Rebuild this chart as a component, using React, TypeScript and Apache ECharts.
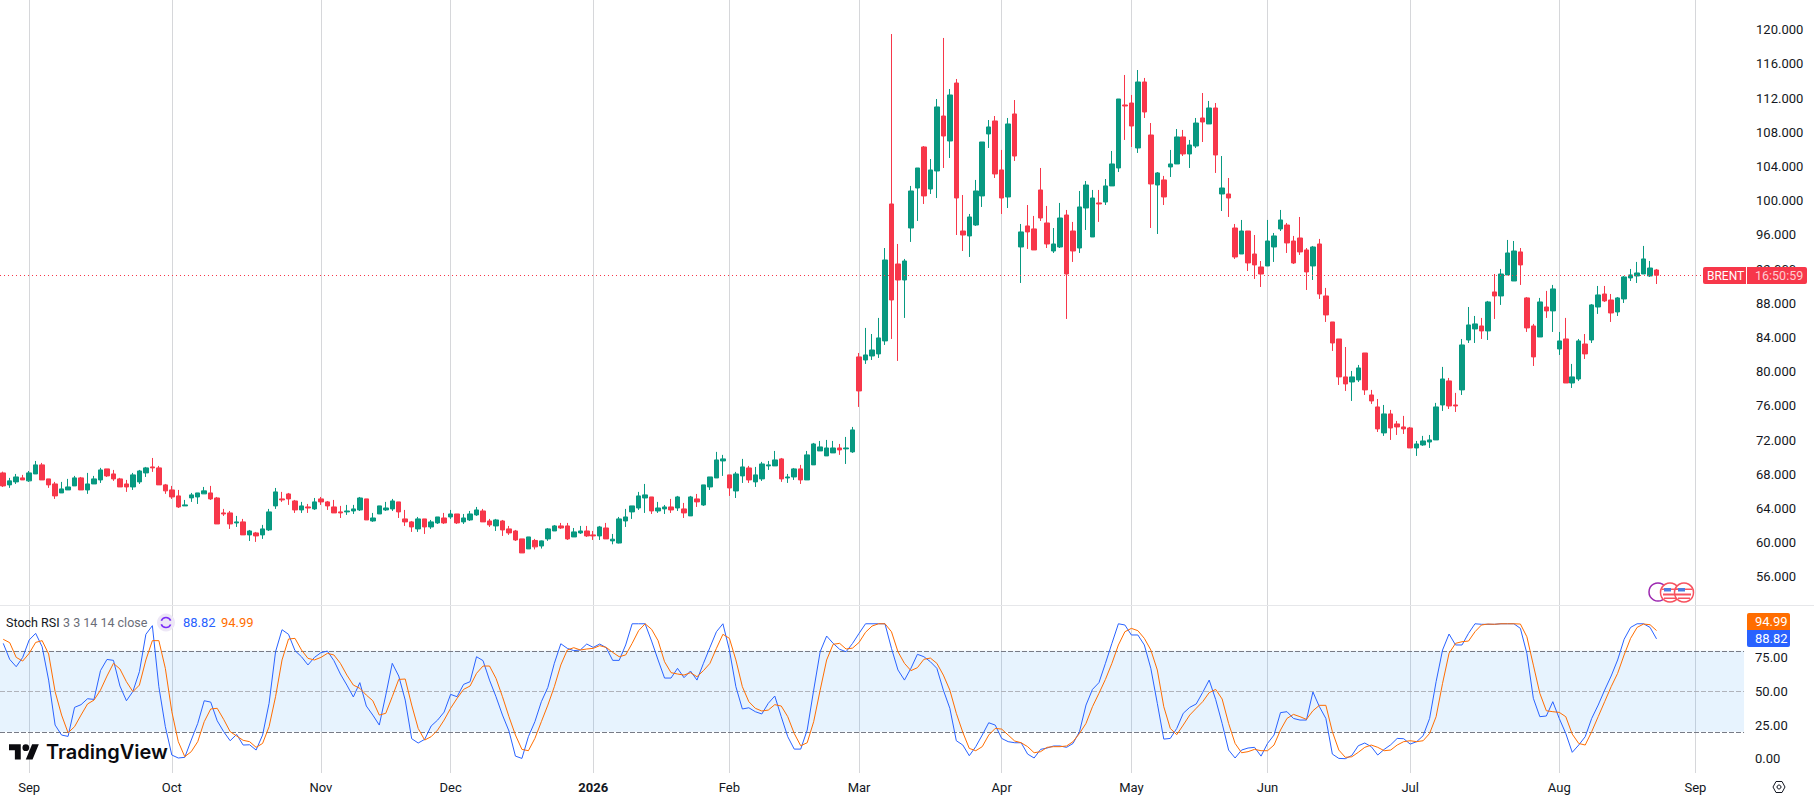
import React, { useEffect, useRef } from "react";
import * as echarts from "echarts";

// [open, close, low, high] per trading day
const candlesSep = [
[68.15,66.63,66.50,68.30],[66.75,67.22,66.40,67.57],[67.10,67.68,66.86,68.03],[67.57,67.33,67.33,67.92],[67.22,68.15,67.10,68.38],[68.03,69.09,68.03,69.55],[69.09,67.33,67.33,69.32],[67.45,66.75,66.40,67.45],[66.86,65.46,65.11,67.10],[65.81,66.28,65.81,67.10],[66.16,66.51,66.16,67.45],[66.63,67.57,66.63,67.80],[67.57,66.16,66.16,67.68],[66.16,66.86,65.70,68.15],[66.86,67.45,66.86,67.80],[67.33,68.50,66.98,68.74],[68.62,67.80,67.68,68.62],[68.03,67.45,67.22,68.50],[67.45,66.51,66.51,67.57],[66.86,66.51,65.93,67.33],[66.51,67.92,66.16,68.15],[67.10,68.38,66.86,68.50],[68.15,68.74,67.68,68.85],[68.85,68.74,68.27,69.90],[68.74,66.75,66.75,68.97],[66.75,66.05,65.70,66.86],
];
const candlesOct = [
[66.16,65.34,65.11,66.63],[65.46,64.17,64.05,66.16],[64.29,64.41,64.29,64.99],[65.23,65.58,64.76,65.81],[65.34,65.81,64.52,65.81],[65.70,66.05,65.70,66.51],[65.81,65.11,64.99,66.63],[65.22,62.18,62.18,65.34],[63.47,63.35,63.12,63.94],[63.47,62.18,61.60,63.70],[62.30,62.42,61.83,63.12],[62.42,60.90,60.90,62.77],[60.90,61.36,60.19,61.48],[61.13,60.78,60.08,61.25],[60.90,61.60,60.43,62.07],[61.48,63.59,61.36,63.94],[64.29,65.93,63.94,66.39],[65.11,64.99,64.76,65.93],[65.69,65.11,64.41,65.81],[64.87,63.82,63.47,64.99],[63.82,64.29,63.47,64.76],[64.17,64.05,63.47,64.52],[63.94,64.76,63.82,65.22],
];
const candlesNov = [
[65.11,64.76,64.41,65.34],[64.76,64.29,63.82,64.87],[64.17,63.47,63.47,64.99],[63.59,63.47,62.88,64.29],[63.59,63.70,63.24,64.41],[63.70,63.94,63.35,64.41],[63.82,65.22,63.70,65.34],[65.11,62.65,62.65,65.11],[62.53,62.88,62.42,63.47],[63.35,64.29,63.35,64.29],[63.82,64.05,63.70,64.76],[63.94,64.87,63.70,65.11],[64.76,63.59,62.88,64.76],[62.77,62.42,61.95,63.82],[62.42,61.83,61.25,62.53],[61.60,62.77,61.25,63.00],[62.77,61.83,61.01,62.77],[61.83,62.42,61.60,62.65],[62.30,63.00,62.18,63.00],[62.88,62.30,62.18,63.47],
];
const candlesDec = [
[63.00,63.35,62.77,63.82],[63.35,62.30,62.18,63.35],[62.42,62.88,62.18,63.35],[62.65,63.35,62.53,63.70],[63.24,63.82,63.12,64.17],[63.70,62.42,62.42,63.94],[62.53,62.07,61.83,62.77],[61.95,62.65,61.36,62.77],[62.53,61.48,60.78,62.65],[61.60,61.13,60.90,61.95],[61.36,60.31,60.19,61.48],[60.43,58.79,58.79,60.43],[59.26,60.66,59.26,60.66],[60.25,59.50,59.20,60.43],[59.60,60.20,59.30,60.25],[60.43,61.60,60.20,61.71],[61.36,61.95,61.36,62.06],[61.95,61.71,61.60,62.30],[61.95,60.43,60.31,62.30],[60.66,61.25,60.66,61.71],[61.13,61.36,61.01,61.95],[61.36,60.78,60.66,61.95],
];
const candlesJan = [
[60.90,60.78,60.31,61.36],[60.78,61.83,60.31,61.95],[61.71,60.43,60.43,62.30],[60.20,60.40,59.80,61.01],[59.95,62.77,59.90,63.00],[62.53,63.00,61.83,63.94],[63.59,64.29,62.77,64.29],[64.05,65.46,63.82,65.93],[65.22,65.58,63.47,66.86],[65.34,63.70,63.35,65.34],[63.70,64.05,63.47,64.76],[63.94,64.17,63.35,64.40],[64.17,63.82,63.47,65.11],[64.05,65.34,63.70,65.46],[63.94,63.47,62.88,64.64],[63.12,65.34,63.12,65.46],[65.11,64.76,64.17,65.69],[64.40,66.75,64.29,66.75],[66.51,67.68,66.16,67.68],[67.56,69.67,67.56,70.61],[69.55,69.79,67.80,70.26],
];
const candlesFeb = [
[67.92,66.39,65.46,67.92],[66.04,68.03,65.22,68.27],[67.80,68.85,66.98,69.79],[68.73,67.33,66.98,68.97],[67.10,67.92,66.51,68.85],[67.45,69.20,67.21,69.44],[68.97,69.09,68.50,69.55],[68.97,69.67,68.97,70.72],[69.79,67.45,67.10,69.90],[67.56,67.68,66.98,68.03],[67.68,68.62,67.33,68.73],[68.62,67.33,66.86,69.09],[67.33,70.26,67.33,70.72],[69.09,71.54,69.09,71.66],[70.72,71.19,70.72,71.89],[70.14,71.07,70.14,72.01],[70.49,71.07,70.49,71.89],[71.07,70.84,70.26,71.54],[70.96,71.07,69.20,72.36],[70.61,73.18,70.49,73.53],
];
const candlesMar = [
[81.72,77.74,75.87,82.18],[81.36,81.95,80.90,85.11],[81.83,82.53,81.36,84.40],[82.07,83.94,81.60,86.28],[83.59,93.06,83.12,94.46],[99.61,88.38,83.82,119.49],[92.59,90.72,81.25,94.93],[90.72,92.94,86.28,93.18],[96.80,101.13,95.17,101.72],[101.48,103.82,97.62,103.82],[106.28,100.55,99.61,106.39],[101.36,103.59,100.78,104.87],[103.47,110.96,100.31,111.89],[109.90,107.56,103.82,119.03],[106.98,112.36,104.99,113.06],[113.76,100.31,95.98,114.23],[96.45,95.98,94.11,100.66],[95.87,98.09,93.41,98.44],[97.15,101.13,97.04,102.42],[100.55,106.86,99.26,106.86],[107.80,108.62,106.16,109.43],[109.32,103.12,102.65,109.90],
];
const candlesApr = [
[103.59,100.31,98.44,105.93],[100.43,108.97,99.14,109.67],[110.14,105.22,104.64,111.77],[94.58,96.34,90.37,97.27],[97.04,96.34,94.35,99.49],[96.69,94.23,94.23,98.21],[101.25,97.97,97.62,103.82],[97.39,94.93,94.46,99.38],[94.11,94.93,93.88,96.80],[94.58,97.97,94.46,99.73],[98.32,91.42,86.16,98.91],[96.45,94.11,92.83,97.51],[94.46,99.26,93.88,101.13],[99.14,101.83,96.57,102.30],[95.75,100.31,95.75,101.25],[99.73,99.61,97.51,101.25],[99.84,101.72,99.49,102.53],[101.72,104.29,101.72,105.81],[103.82,111.89,103.35,111.89],[111.19,111.07,107.10,114.70],
];
const candlesMay = [
[111.42,108.73,106.28,112.36],[106.16,113.88,105.58,115.28],[113.88,110.37,109.67,114.35],[107.68,101.95,96.80,109.08],[101.83,103.24,96.10,103.35],[102.42,100.43,99.49,102.89],[103.94,104.29,102.77,105.93],[104.29,107.45,104.29,108.38],[107.45,105.46,105.22,108.27],[105.46,106.51,103.82,107.10],[106.39,109.08,106.16,109.67],[109.67,109.20,106.86,112.59],[108.97,110.84,108.97,111.66],[110.84,105.34,103.24,111.42],[100.78,101.48,98.79,105.22],[100.78,100.31,98.09,102.65],[96.80,93.41,93.18,97.27],[93.76,96.45,93.76,97.74],[96.45,92.71,91.77,96.45],[93.76,92.48,90.84,95.98],[92.24,91.42,89.90,92.94],
];
const candlesJun = [
[92.36,95.28,92.36,97.74],[94.58,95.87,92.83,96.22],[96.69,97.74,96.45,98.91],[97.15,95.05,93.88,97.39],[95.28,92.71,92.59,95.87],[95.63,94.00,93.65,98.09],[94.23,91.66,89.55,94.46],[92.36,94.58,90.72,94.70],[94.93,89.08,88.50,95.52],[88.85,86.63,85.81,89.79],[85.81,83.35,82.42,85.81],[83.82,79.38,78.44,83.82],[79.38,78.56,77.74,82.88],[78.79,79.38,76.57,80.08],[79.03,80.43,78.79,80.78],[82.18,77.86,77.27,82.18],[77.27,76.57,76.22,77.86],[75.87,73.30,72.94,76.80],[72.83,75.05,72.48,76.10],[75.05,73.41,72.01,75.52],[73.88,73.53,72.59,74.23],[73.53,73.30,72.71,74.82],
];
const candlesJul = [
[73.41,71.07,71.07,73.53],[71.07,71.54,70.14,71.89],[71.42,71.89,71.31,72.48],[71.77,72.01,71.07,72.59],[72.01,75.87,72.01,76.34],[76.10,79.14,75.40,80.55],[78.91,75.98,75.63,79.26],[76.10,75.98,75.28,77.51],[77.86,83.12,77.27,83.82],[83.70,85.46,83.35,87.56],[84.99,85.58,83.35,86.51],[85.34,84.76,83.82,86.28],[84.76,88.15,83.70,88.27],[89.32,88.85,86.16,91.42],[88.85,91.42,87.80,92.01],[91.31,93.88,91.31,95.40],[90.60,94.11,90.60,95.28],[94.00,92.48,90.14,94.46],[88.62,85.11,84.64,88.73],[85.34,81.72,80.66,85.58],[84.05,88.15,84.05,88.62],[87.56,87.10,86.28,89.44],[87.10,89.67,84.64,90.14],
];
const candlesAug = [
[82.65,83.59,81.95,84.64],[83.82,78.67,78.67,86.28],[78.67,79.38,78.09,80.90],[79.14,83.59,78.91,83.82],[83.23,82.07,81.48,84.40],[83.70,87.80,83.35,87.91],[87.56,88.97,86.75,90.02],[89.08,88.27,88.15,90.02],[88.38,86.86,85.81,89.08],[86.98,88.62,86.51,88.73],[88.50,91.07,88.03,91.19],[90.96,91.31,90.60,92.01],[91.19,91.54,90.37,92.83],[91.42,93.18,91.42,94.70],[91.19,92.12,91.07,92.94],[91.89,91.27,90.25,92.01],
];

const stochK1 = [85.5,73.6,68.2,75.1,88.0,92.9,83.0,58.3,25.0,17.6,16.6,38.1,40.1,44.5,44.0,65.3,73.6,72.9,53.9,43.0,49.9,64.5,92.2,98.6,53.4,23.8,2.8,0.6,1.1,13.9,26.2,43.0,42.0,28.2,20.1,13.4,18.1,10.2,10.4,6.5,17.6,41.1,79.3,95.6,92.2,80.1,75.6,69.5,75.1,78.6,79.8,72.7,62.8,54.6,45.8,56.4,39.1,32.4,25.0,47.2,70.7,61.3,43.5,14.9,11.7,14.4,24.3,28.7,34.6,47.7];
const stochK2 = [46.0,55.1,57.1,75.6,72.7,58.3,46.0,32.4,20.6,2.0,0.3,16.4,27.5,42.3,52.9,70.7,85.2,81.8,80.1,80.6,85.0,82.5,85.0,82.3,72.9,72.9,84.3,100,100,100,87.2,73.2,59.8,59.8,67.0,60.1,65.0,58.3,70.7,82.5,94.1,100,80.6,53.4,36.9,37.8,34.9,33.2,41.1,46.5,31.2,16.4,7.2,7.2,21.3,50.9,79.3,90.9,85.5,81.1,79.3,85.5,92.9,100,100,100,100,81.8,65.8];
const stochK3 = [58.3,67.0,77.4,75.6,71.9,67.0,50.9,37.4,13.4,10.2,2.3,9.0,17.6,26.7,25.0,15.1,12.7,11.9,11.9,3.5,0.6,7.0,8.0,9.5,9.5,8.5,11.4,20.1,39.8,51.4,56.4,70.7,85.5,100,99.1,91.7,91.7,84.3,67.0,41.1,14.6,15.1,22.5,33.7,38.1,40.6,49.2,58.3,44.0,26.2,6.5,0.6,6.5,8.0,8.5,2.0,11.4,17.6,34.2,34.9,29.9,28.7,28.7,49.5,38.6,29.9,3.5,0.3,0.1];
const stochK4 = [2.5,9.7,11.7,9.0,2.8,7.0,10.4,15.1,14.9,10.9,12.7,17.1,29.9,57.1,80.6,92.4,84.3,84.3,92.9,100,99.6,99.6,99.6,100,100,100,96.6,78.1,44.8,31.2,31.7,42.3,29.9,18.8,4.8,10.2,16.4,29.9,39.8,50.9,61.3,73.2,88.5,97.3,100,100,97.3,88.82];

const stochD1 = [88.5,86.0,75.1,72.4,78.1,86.2,87.5,77.6,49.7,32.4,19.3,23.8,32.4,40.6,43.5,50.9,61.3,70.7,66.5,57.1,49.7,54.6,73.2,87.5,87.5,67.0,34.9,12.7,1.6,5.3,12.7,27.5,36.9,37.4,29.2,20.1,16.9,13.7,12.7,8.5,11.4,23.8,46.0,73.2,88.7,89.2,80.6,74.4,73.2,75.1,78.1,76.9,70.7,62.0,54.6,52.2,47.2,43.0,32.4,33.7,46.0,58.8,59.1,39.8,22.5,13.9,16.4,21.3,28.7,37.4];
const stochD2 = [44.8,51.4,53.9,63.3,68.7,68.7,59.6,46.0,31.2,17.6,7.0,6.0,15.1,27.5,39.8,53.4,69.5,80.6,82.3,80.6,81.3,81.8,83.8,82.5,78.8,75.6,76.9,85.5,94.9,100,95.9,87.5,71.9,63.8,62.8,62.0,63.8,60.8,65.3,70.7,81.8,92.2,89.2,73.2,53.4,42.3,37.4,35.4,36.1,40.1,39.1,31.2,18.8,9.7,11.9,27.5,50.9,73.2,84.8,85.5,81.3,82.0,86.2,93.7,98.3,100,100,94.1,79.3];
const stochD3 = [70.7,65.3,67.5,73.7,74.6,70.7,62.0,50.9,33.7,19.6,7.7,6.0,9.0,17.6,22.5,22.0,17.6,13.2,11.9,9.0,4.5,5.3,8.5,9.0,9.0,9.5,12.7,18.8,26.2,38.6,48.5,58.8,70.7,84.3,94.1,96.6,94.9,89.2,80.6,65.8,38.6,22.5,17.9,25.0,32.4,37.4,42.3,49.0,51.4,44.3,26.2,11.4,4.5,5.3,7.0,6.0,6.0,10.2,21.3,29.9,32.9,31.2,29.2,35.6,39.6,39.6,20.1,6.5,1.1];
const stochD4 = [1.5,4.8,8.5,10.2,8.5,6.0,6.5,10.2,12.7,13.4,12.7,13.4,18.8,31.2,55.9,78.1,85.5,86.7,87.2,94.1,99.1,99.8,99.6,100,100,100,99.8,90.4,69.4,48.5,35.6,34.9,34.4,31.2,18.3,11.4,10.2,20.1,31.2,42.3,53.4,63.3,76.9,89.2,97.3,99.8,99.3,94.99];

const monthNames = ["Sep","Oct","Nov","Dec","2026","Feb","Mar","Apr","May","Jun","Jul","Aug","Sep"];
const monthBars = [4,26,49,69,91,112,132,154,174,195,217,240,261];
const priceTicks = [56,60,64,68,72,76,80,84,88,92,96,100,104,108,112,116,120];
const stochTicks = [0,25,50,75];
const lastPrice = 91.27;
const lastK = 88.82;
const lastD = 94.99;

const candles = [...candlesSep,...candlesOct,...candlesNov,...candlesDec,...candlesJan,...candlesFeb,...candlesMar,...candlesApr,...candlesMay,...candlesJun,...candlesJul,...candlesAug];
const stochK = [...stochK1,...stochK2,...stochK3,...stochK4];
const stochD = [...stochD1,...stochD2,...stochD3,...stochD4];
const BARS = 269;
const categories = Array.from({length: BARS}, (_, i) => {
  const m = monthBars.indexOf(i);
  return m >= 0 ? monthNames[m] : String(i);
});
const isMonth = (i: number) => monthBars.includes(i);

const GREEN = "#089981";
const RED = "#F7374A";
const BLUE = "#2962FF";
const ORANGE = "#FF6D00";
const FONT = "Roboto";
const TEXT = "#131722";
const GRID = "#D6D7DA";

echarts.graphic.registerShape("tvMark", echarts.graphic.extendPath(
  "M14 22H7V11H0V4h14v18zM28 22h-8l7.5-18h8L28 22zM24 8a4 4 0 1 1-8 0a4 4 0 1 1 8 0z", {} as any));

function flag(cx: number, cy: number) {
  const r = 9.5;
  return [
    { type: "circle", shape: { cx, cy, r }, style: { fill: "#fff", stroke: "#F7525F", lineWidth: 1.5 }, z: 20 },
    { type: "rect", shape: { x: cx - 7, y: cy + 1, width: 14, height: 2 }, style: { fill: "#F7525F" }, z: 21 },
    { type: "rect", shape: { x: cx - 6, y: cy + 5, width: 12, height: 1.5 }, style: { fill: "#F7525F" }, z: 21 },
    { type: "rect", shape: { x: cx - 8, y: cy - 4, width: 16, height: 1.5 }, style: { fill: "#F7525F" }, z: 21 },
    { type: "rect", shape: { x: cx - 6, y: cy - 4.5, width: 7, height: 3.5 }, style: { fill: "#4E7CE0" }, z: 22 },
  ];
}

const txt = (x: number, y: number, text: string, fill: string, fontSize = 13, fontWeight: any = 400, extra: any = {}) => ({
  type: "text", x, y, z: 30,
  style: { text, fill, font: `${fontWeight} ${fontSize}px ${FONT}`, textVerticalAlign: "middle", textBaseline: "middle", ...extra },
});

export default function App() {
  const ref = useRef<HTMLDivElement>(null);
  useEffect(() => {
    document.body.style.margin = "0";
    document.body.style.overflow = "hidden";
    document.body.style.background = "#fff";
    const chart = echarts.init(ref.current!, undefined, { renderer: "svg" });
    chart.setOption({
      animation: false,
      backgroundColor: "#fff",
      grid: [
        { left: -0.94, top: 0, width: 1745, height: 605 },
        { left: -0.94, top: 605, width: 1745, height: 168 },
      ],
      xAxis: [
        { type: "category", gridIndex: 0, data: categories, boundaryGap: true,
          axisLine: { show: false }, axisTick: { show: false }, axisLabel: { show: false },
          splitLine: { show: true, alignWithLabel: true, interval: (i: number) => isMonth(i), lineStyle: { color: GRID, width: 1 } } },
        { type: "category", gridIndex: 1, data: categories, boundaryGap: true,
          axisLine: { show: false }, axisTick: { show: false },
          axisLabel: { show: true, interval: (i: number) => isMonth(i), margin: 8, hideOverlap: false, color: TEXT, fontFamily: FONT, fontSize: 13,
            formatter: (v: string) => (v === "2026" ? "{b|2026}" : v),
            rich: { b: { fontWeight: 700, fontFamily: FONT, fontSize: 13, color: TEXT } } },
          splitLine: { show: true, alignWithLabel: true, interval: (i: number) => isMonth(i), lineStyle: { color: GRID, width: 1 } } },
      ],
      yAxis: [
        { type: "value", gridIndex: 0, position: "right", min: 52.7, max: 123.47, scale: true,
          axisLine: { show: false }, axisTick: { show: false }, splitLine: { show: false },
          axisLabel: { customValues: priceTicks, margin: 12, align: "left", color: TEXT, fontFamily: FONT, fontSize: 13, padding: [2, 0, 0, 0], formatter: (v: number) => v.toFixed(3) } },
        { type: "value", gridIndex: 1, position: "right", min: -10.5, max: 113.9,
          axisLine: { show: false }, axisTick: { show: false }, splitLine: { show: false },
          axisLabel: { customValues: stochTicks, margin: 11, align: "left", color: TEXT, fontFamily: FONT, fontSize: 13, formatter: (v: number) => v.toFixed(2) } },
      ],
      series: [
        { type: "candlestick", xAxisIndex: 0, yAxisIndex: 0, data: candles, barWidth: 5,
          itemStyle: { color: GREEN, color0: RED, borderColor: GREEN, borderColor0: RED, borderWidth: 1 },
          markLine: { silent: true, symbol: "none", label: { show: false },
            data: [{ yAxis: lastPrice }], lineStyle: { color: RED, type: [1, 3], width: 1 } } },
        { type: "line", name: "K", xAxisIndex: 1, yAxisIndex: 1, data: stochK, showSymbol: false, symbol: "none",
          lineStyle: { color: BLUE, width: 1 }, z: 5,
          markArea: { silent: true, itemStyle: { color: "rgba(33,150,243,0.11)" }, data: [[{ yAxis: 20 }, { yAxis: 80 }]] },
          markLine: { silent: true, symbol: "none", label: { show: false },
            data: [
              { yAxis: 80, lineStyle: { color: "#787B86", type: [5, 2], width: 1 } },
              { yAxis: 50, lineStyle: { color: "#B0B3BB", type: [5, 2], width: 1 } },
              { yAxis: 20, lineStyle: { color: "#787B86", type: [5, 2], width: 1 } },
            ] } },
        { type: "line", name: "D", xAxisIndex: 1, yAxisIndex: 1, data: stochD, showSymbol: false, symbol: "none",
          lineStyle: { color: ORANGE, width: 1 }, z: 6 },
      ],
      graphic: [
        { type: "line", shape: { x1: 0, y1: 605.5, x2: 1814, y2: 605.5 }, style: { stroke: "#E6E7EA", lineWidth: 1 }, z: 10 },
        // last price tag
        { type: "rect", shape: { x: 1703, y: 267, width: 104, height: 17, r: 2 }, style: { fill: RED }, z: 25 },
        { type: "line", shape: { x1: 1746.5, y1: 267, x2: 1746.5, y2: 284 }, style: { stroke: "#fff", lineWidth: 1 }, z: 26 },
        txt(1707, 275.7, "BRENT", "#fff", 12),
        txt(1755, 275.7, "16:50:59", "rgba(255,255,255,0.75)", 12.5),
        // stoch tags
        { type: "rect", shape: { x: 1747, y: 613, width: 43, height: 17, r: [2, 2, 0, 0] }, style: { fill: ORANGE }, z: 25 },
        { type: "rect", shape: { x: 1747, y: 630, width: 43, height: 17, r: [0, 0, 2, 2] }, style: { fill: BLUE }, z: 25 },
        txt(1755, 621.7, lastD.toFixed(2), "#fff"),
        txt(1755, 638.7, lastK.toFixed(2), "#fff"),
        // legend
        txt(6, 622.7, "Stoch RSI", TEXT, 12.5),
        txt(63, 622.7, "3 3 14 14 close", "#6A6D78", 12.5),
        { type: "circle", shape: { cx: 166, cy: 622.5, r: 9 }, style: { fill: "#EDE7F6" }, z: 28 },
        { type: "arc", shape: { cx: 166, cy: 622.5, r: 5, startAngle: 3.5, endAngle: 5.9 }, style: { stroke: "#7B2FF7", fill: "none", lineWidth: 1.6 }, z: 29 },
        { type: "arc", shape: { cx: 166, cy: 622.5, r: 5, startAngle: 0.4, endAngle: 2.8 }, style: { stroke: "#7B2FF7", fill: "none", lineWidth: 1.6 }, z: 29 },
        txt(183, 622.7, lastK.toFixed(2), BLUE),
        txt(221, 622.7, lastD.toFixed(2), ORANGE),
        // watermark
        { type: "tvMark", x: 9, y: 741, scaleX: 0.84, scaleY: 0.84, style: { fill: "#0B0B0F" }, z: 30 },
        { type: "text", x: 46, y: 752, z: 30, style: { text: "TradingView", fill: "#0B0B0F", font: `600 20px Inter`, textVerticalAlign: "middle", textBaseline: "middle" } },
        // flags
        { type: "circle", shape: { cx: 1658, cy: 592, r: 9 }, style: { fill: "#fff", stroke: "#9C27B0", lineWidth: 1.5 }, z: 19 },
        ...flag(1670, 592.5),
        ...flag(1684, 592.5),
        // settings icon
        { type: "polygon", shape: { points: [[1773, 787], [1776, 781.5], [1782, 781.5], [1785, 787], [1782, 792.5], [1776, 792.5]] }, style: { fill: "none", stroke: TEXT, lineWidth: 1 }, z: 30 },
        { type: "circle", shape: { cx: 1779, cy: 787, r: 2 }, style: { fill: "none", stroke: TEXT, lineWidth: 1 }, z: 30 },
      ],
    });
    return () => chart.dispose();
  }, []);
  return <div ref={ref} style={{ width: 1814, height: 800 }} />;
}
